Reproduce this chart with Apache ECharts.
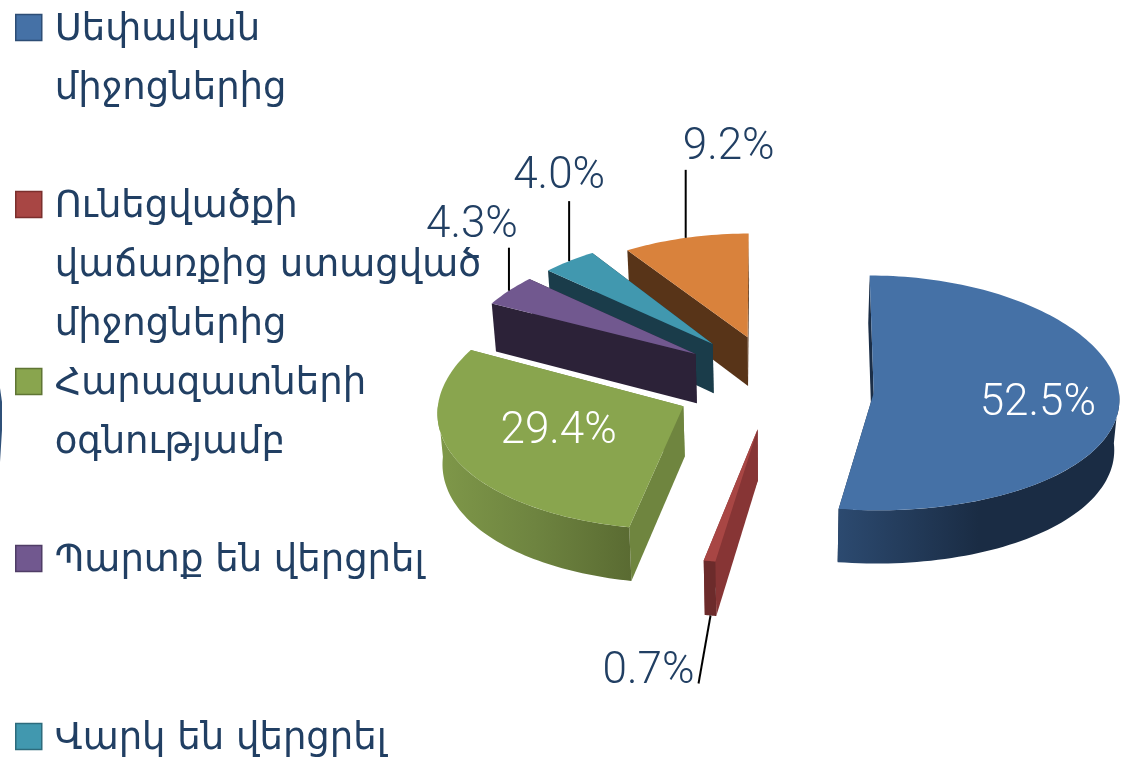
<!DOCTYPE html>
<html>
<head>
<meta charset="utf-8">
<style>html,body{margin:0;padding:0;background:#fff}#c{width:1128px;height:764px}</style>
<script src="https://cdn.jsdelivr.net/npm/echarts@6/dist/echarts.min.js"></script>
</head>
<body>
<div id="c"></div>
<script>
// ---- data ----
const categories = ['Սեփական միջոցներից', 'Ունեցվածքի վաճառքից ստացված միջոցներից', 'Հարազատների օգնությամբ', 'Պարտք են վերցրել', 'Վարկ են վերցրել', 'Այլ'];
const shares = [52.5, 0.7, 29.4, 4.3, 4.0, 9.2];
const legendLines = [
  ['Սեփական', 'միջոցներից'],
  ['Ունեցվածքի', 'վաճառքից ստացված', 'միջոցներից'],
  ['Հարազատների', 'օգնությամբ'],
  ['Պարտք են վերցրել'],
  ['Վարկ են վերցրել']
];
// ---- styles ----
const topColors = ['#4571A6', '#A84644', '#89A54E', '#71588F', '#4198AF', '#D9823C'];
const edgeColors = ['#1B2E47', '#873535', '#6F853F', '#2C2238', '#1A3C4A', '#583418'];
const rimColors = [
  ['#2C4A70', '#1A2C44', '#1A2C44'],
  ['#6C2B2B', '#6C2B2B', '#6C2B2B'],
  ['#7F9849', '#6E8440', '#5A6B32'],
  ['#2C2238', '#2C2238', '#2C2238'],
  ['#1A3C4A', '#1A3C4A', '#1A3C4A'],
  ['#583418', '#583418', '#583418']
];
const legendBorders = ['#2D4D75', '#7B2F2D', '#5F7534', '#4F3D66', '#2D6B7C', '#A85E25'];
const legendCenters = [27.5, 204.5, 381.5, 558.5, 736.5];
const labelFill = ['#ffffff', '#213F63', '#ffffff', '#213F63', '#213F63', '#213F63'];
// small per-slice corrections of the exploded position and of the perspective scale
const sliceNudge = [[1, 3], [0, -7], [-3, -2], [0, -3], [0, -3], [0, 0]];
const sliceScale = [[1, 1], [1, 1.057], [0.98, 1.02], [1, 1], [1, 1], [1, 0.97]];
// label layout: leader length from the rim (null = inside the slice) and text offset
const leaderEnd = [null, [-12, 68], null, [0, -43], [0, -60], [0, -68]];
const textOffset = [[12, 5], [-50, -12], [15, -8], [-37, -22], [-10, -24], [43, -22]];
const LINE = 59, TEXT = '#213F63';
const PIE = { cx: 775, cy: 386, explode: 98, squash: 0.52, rx: 246, ry: 118, depth: 49, refY: 393 };
const total = shares.reduce((a, b) => a + b, 0);

function sliceGeometry(i, startShare, share) {
  const a0 = startShare / total * Math.PI * 2, a1 = (startShare + share) / total * Math.PI * 2;
  const m = (a0 + a1) / 2;
  const baseY = PIE.cy - PIE.explode * PIE.squash * Math.cos(m);
  const tipX = PIE.cx + PIE.explode * Math.sin(m) + sliceNudge[i][0];
  const tipY = baseY + sliceNudge[i][1];
  const sx = (1 + 0.0009 * (baseY - PIE.refY)) * sliceScale[i][0];
  const sy = (1 + 0.0017 * (baseY - PIE.refY)) * sliceScale[i][1];
  function top(a, r) {
    const x = tipX + r * sx * PIE.rx * Math.sin(a);
    const y = tipY - r * sy * PIE.ry * Math.cos(a);
    return [PIE.cx + (x - PIE.cx) * (1 + 0.00035 * (y - PIE.refY)), y];
  }
  function low(p) {
    return [PIE.cx + (p[0] - PIE.cx) * 0.985, p[1] + PIE.depth + (p[1] - 340) * 0.025];
  }
  return { a0, a1, m, top, low };
}

function renderSlice(i) {
  return function (params, api) {
    const g = sliceGeometry(i, api.value(1), api.value(0));
    const tip = g.top(0, 0), children = [];
    const quad = (a, fill) => {
      const p = g.top(a, 1);
      children.push({ type: 'polygon', shape: { points: [tip, p, g.low(p), g.low(tip)] }, style: { fill } });
    };
    quad(g.a1, edgeColors[i]);
    quad(g.a0, edgeColors[i]);
    // outer rim, only where it faces the viewer
    const from = Math.max(g.a0, Math.PI / 2), to = Math.min(g.a1, Math.PI * 1.5);
    if (to > from) {
      const upper = [], lower = [];
      for (let k = 0; k <= 60; k++) {
        const p = g.top(from + (to - from) * k / 60, 1);
        upper.push(p); lower.unshift(g.low(p));
      }
      const c = rimColors[i];
      children.push({
        type: 'polygon', shape: { points: upper.concat(lower) },
        style: { fill: new echarts.graphic.LinearGradient(0, 0, 1, 0, [
          { offset: 0, color: c[0] }, { offset: 0.5, color: c[1] }, { offset: 1, color: c[2] }
        ]) }
      });
    }
    // top face
    const face = [tip];
    const n = Math.max(4, Math.ceil((g.a1 - g.a0) * 40));
    for (let k = 0; k <= n; k++) face.push(g.top(g.a0 + (g.a1 - g.a0) * k / n, 1));
    children.push({ type: 'polygon', shape: { points: face }, style: { fill: topColors[i] } });
    // label
    const text = api.value(0).toFixed(1) + '%';
    let anchor = g.top(g.m, 0.62);
    if (leaderEnd[i]) {
      const rim = g.top(g.m, 1);
      const from2 = leaderEnd[i][1] > 0 ? g.low(rim) : rim;
      anchor = [from2[0] + leaderEnd[i][0], from2[1] + leaderEnd[i][1]];
      children.push({ type: 'line', shape: { x1: from2[0], y1: from2[1], x2: anchor[0], y2: anchor[1] },
        style: { stroke: '#000', lineWidth: 2 }, z2: 5 });
    }
    children.push({ type: 'text', z2: 6, style: {
      text, x: anchor[0] + textOffset[i][0], y: anchor[1] + textOffset[i][1],
      fill: labelFill[i], font: '300 44px Roboto, Lato, sans-serif', align: 'center', verticalAlign: 'middle'
    } });
    return { type: 'group', children };
  };
}

let cum = 0;
const starts = shares.map(v => { const s = cum; cum += v; return s; });
const series = shares.map((v, i) => ({
  type: 'custom', name: categories[i], coordinateSystem: 'none', silent: true,
  itemStyle: { color: topColors[i] }, renderItem: renderSlice(i),
  data: [[v, starts[i]]]
})).reverse();

// the square sits on the first text line; the empty sub-path keeps it 3px above the text centre
const legends = legendLines.map((lines, i) => ({
  data: [categories[i]], orient: 'vertical', left: 15, padding: 0, selectedMode: false,
  top: legendCenters[i] + 3 - ((lines.length - 1) * LINE + LINE / 2),
  icon: 'path://M0 0H26V26H0Z M0 32h0', itemWidth: 26, itemHeight: 32,
  itemStyle: { borderColor: legendBorders[i], borderWidth: 1.5 },
  formatter: () => new Array(lines.length - 1).fill(' ').concat(lines).join('\n'),
  textStyle: { color: TEXT, fontFamily: '"DejaVu Sans"', fontSize: 37, lineHeight: LINE, padding: [0, 0, 0, 8] }
}));

const chart = echarts.init(document.getElementById('c'), null, { renderer: 'canvas' });
chart.setOption({
  animation: false, backgroundColor: '#fff',
  legend: legends, series,
  graphic: [{ type: 'polygon', silent: true,
    shape: { points: [[0, 388], [2, 402], [2, 430], [0, 462]] }, style: { fill: '#2F5078' } }]
});
</script>
</body>
</html>
